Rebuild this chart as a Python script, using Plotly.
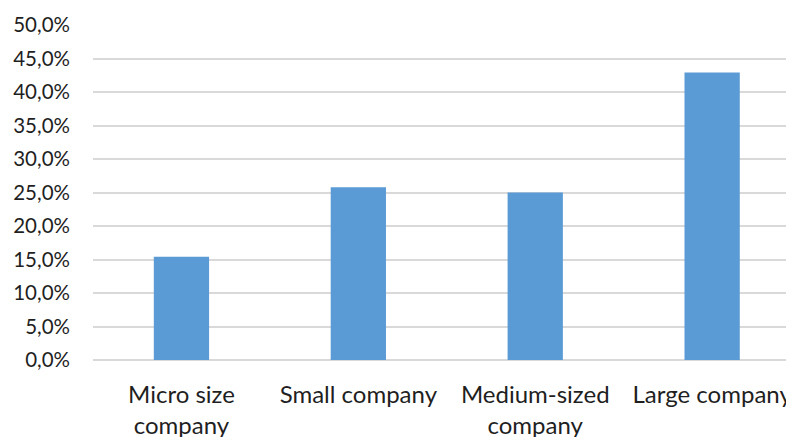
import plotly.graph_objects as go

categories = ["Micro size<br>company", "Small company", "Medium-sized<br>company", "Large company"]
values = [0.154, 0.258, 0.250, 0.429]

fig = go.Figure(go.Bar(
    x=categories, y=values,
    marker=dict(color="#5B9BD5", line=dict(width=0)),
))

fig.update_layout(
    width=794, height=437,
    margin=dict(l=84.5, r=0, t=16.5, b=85),
    paper_bgcolor="white", plot_bgcolor="white",
    separators=",.",
    bargap=0.6875,
    font=dict(family="Lato", size=20, color="#1f1f1f"),
    showlegend=False,
)
fig.update_xaxes(
    range=[-0.5, 3.508], automargin=False,
    showgrid=False, showline=False, zeroline=False,
    ticks="", ticklabelstandoff=18,
    tickfont=dict(size=24),
)
fig.update_yaxes(
    range=[0, 0.5], dtick=0.05, tickformat=".1%", automargin=False,
    showgrid=True, gridcolor="#D9D9D9", gridwidth=1.5,
    zeroline=True, zerolinecolor="#D9D9D9", zerolinewidth=1.5,
    showline=False, ticks="", ticklabelstandoff=22,
    tickfont=dict(size=20.5),
)

fig.write_html("out.html")
